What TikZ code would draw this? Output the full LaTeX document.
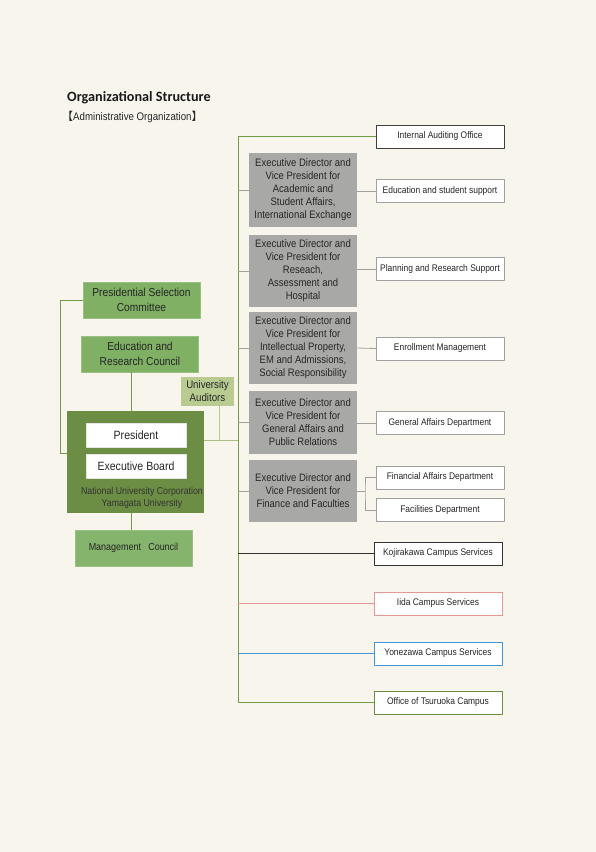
\documentclass[tikz,border=0pt]{standalone}
\usepackage{fontspec}
\setmainfont{Liberation Sans}[FakeStretch=0.88]
\newfontfamily\titlefont{Carlito}
\newfontfamily\cjk{Noto Sans CJK JP}
\usetikzlibrary{positioning}

\definecolor{paper}{RGB}{248,246,236}
\definecolor{leaf}{RGB}{127,176,100}
\definecolor{paleleaf}{RGB}{184,204,146}
\definecolor{darkleaf}{RGB}{107,141,68}
\definecolor{trunkgreen}{RGB}{112,156,70}
\definecolor{boxgray}{RGB}{168,168,166}
\definecolor{rimgray}{RGB}{160,160,160}
\definecolor{iidapink}{RGB}{232,150,150}
\definecolor{yoneblue}{RGB}{66,150,214}

\begin{document}
\begin{tikzpicture}[x=1pt, y=-1pt, line join=round,
  every node/.style={font=\fontsize{9.6}{13}\selectfont, text=black!85, inner sep=0pt, align=center},
  greenbox/.style={fill=leaf, draw=leaf!80!white, minimum width=117pt, minimum height=36pt, font=\fontsize{11.6}{14.5}\selectfont},
  whitebox/.style={fill=white, draw=white!90!black, minimum width=100pt, minimum height=24pt, font=\fontsize{12}{14}\selectfont},
  vpbox/.style={fill=boxgray, minimum width=108pt, font=\fontsize{10.8}{13}\selectfont},
  unitbox/.style={fill=white, draw=rimgray, minimum width=128pt, minimum height=23pt},
  gline/.style={draw=trunkgreen, line width=0.9pt},
  sline/.style={draw=rimgray, line width=0.8pt}]
\fill[paper] (0,0) rectangle (596,852);

% title
\node[anchor=west, font=\titlefont\bfseries\fontsize{14.2}{16}\selectfont, text=black!90] (title) at (67,98) {Organizational Structure};
\node[anchor=west, font=\fontsize{11}{12}\selectfont] (subtitle) at (62,117) {{\cjk 【}Administrative Organization{\cjk 】}};

% left side
\node[greenbox] (psc) at (141.5,300) {Presidential Selection\\Committee};
\node[greenbox] (erc) at (140,354) {Education and\\Research Council};
\node[fill=paleleaf, minimum width=53pt, minimum height=29pt, font=\fontsize{11}{13}\selectfont] (aud) at (207.5,391.5) {University\\Auditors};
\node[fill=darkleaf, minimum width=137pt, minimum height=102pt] (univ) at (135.5,462) {};
\node[whitebox] (pres) at (136,435) {President};
\node[whitebox] (exb) at (136,466) {Executive Board};
\node[font=\fontsize{10}{12.5}\selectfont, text=black!80] (nuc) at (142,498) {National University Corporation\\Yamagata University};
\node[greenbox, fill=leaf!95!white, font=\fontsize{10.2}{13}\selectfont] (mgc) at (133.5,548) {Management\hspace{0.7em}Council};

\coordinate (lj) at (60,453);
\coordinate (aj) at (238,440);
\coordinate (stem) at (131,462);
\draw[gline] (psc.west) -| (lj) -- (univ.west |- lj);
\draw[gline] (erc.south -| stem) -- (univ.north -| stem);
\draw[draw=paleleaf, line width=0.8pt] ([xshift=12]aud.south) -- ([xshift=12]aud.south |- aj);
\draw[draw=paleleaf!80!darkleaf, line width=0.9pt] (univ.east |- aj) -- (aj);
\draw[gline] (univ.south -| stem) -- (mgc.north -| stem);

% vice presidents
\node[vpbox, minimum height=74pt] (acad) at (303,190) {Executive Director and\\Vice President for\\Academic and\\Student Affairs,\\International Exchange};
\node[vpbox, minimum height=72pt] (res) at (303,271) {Executive Director and\\Vice President for\\Reseach,\\Assessment and\\Hospital};
\node[vpbox, minimum height=72pt] (ip) at (303,348) {Executive Director and\\Vice President for\\Intellectual Property,\\EM and Admissions,\\Social Responsibility};
\node[vpbox, minimum height=63pt] (gen) at (303,422.5) {Executive Director and\\Vice President for\\General Affairs and\\Public Relations};
\node[vpbox, minimum height=62pt] (fin) at (303,491) {Executive Director and\\Vice President for\\Finance and Faculties};

% offices
\node[unitbox, draw=black!75] (iao) at (440,136.5) {Internal Auditing Office};
\node[unitbox] (edu) at (440,191) {Education and student support};
\node[unitbox] (plan) at (440,269) {Planning and Research Support};
\node[unitbox] (enr) at (440,348.5) {Enrollment Management};
\node[unitbox] (gad) at (440,423) {General Affairs Department};
\node[unitbox] (fad) at (440,477.5) {Financial Affairs Department};
\node[unitbox] (fac) at (440,510) {Facilities Department};

% campuses
\node[unitbox, draw=black!80] (koj) at (438,553.5) {Kojirakawa Campus Services};
\node[unitbox, draw=iidapink] (iida) at (438,603.5) {Iida Campus Services};
\node[unitbox, draw=yoneblue] (yon) at (438,653.5) {Yonezawa Campus Services};
\node[unitbox, draw=darkleaf] (tsu) at (438,702.5) {Office of Tsuruoka Campus};

% trunk
\coordinate (top) at (238,136.5);
\coordinate (bot) at (238,702.5);
\draw[gline] (iao.west) -- (top) -- (bot) -- (tsu.west);
\foreach \vp in {acad,res,ip,gen,fin}
  \draw[sline] (\vp.west -| top) -- (\vp.west);
\draw[sline] (acad.east |- edu.west) -- (edu.west);
\draw[sline] (res.east |- plan.west) -- (plan.west);
\draw[sline] (ip.east) -- (enr.west);
\draw[sline] (gen.east |- gad.west) -- (gad.west);
\coordinate (fj) at (365,491);
\draw[sline] (fin.east) -- (fj);
\draw[sline] (fad.west) -| (fj) |- (fac.west);
\draw[draw=black!80, line width=0.8pt] (koj.west -| top) -- (koj.west);
\draw[draw=iidapink, line width=0.8pt] (iida.west -| top) -- (iida.west);
\draw[draw=yoneblue, line width=0.8pt] (yon.west -| top) -- (yon.west);
\end{tikzpicture}
\end{document}
